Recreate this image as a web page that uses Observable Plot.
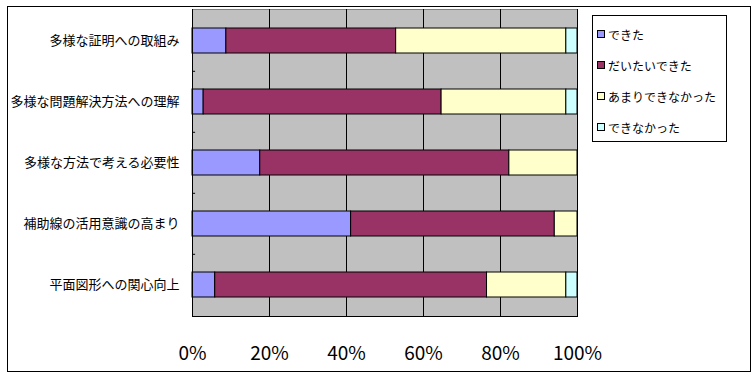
<!DOCTYPE html>
<html><head><meta charset="utf-8">
<script src="https://cdn.jsdelivr.net/npm/d3@7"></script>
<script src="https://cdn.jsdelivr.net/npm/@observablehq/plot@0.6"></script>
<style>
body{margin:0;background:#fff;font-family:"Noto Sans CJK JP",sans-serif;}
#wrap{position:relative;width:756px;height:376px;overflow:hidden;}
#wrap svg{position:absolute;left:0;top:0;}
#border{position:absolute;left:7px;top:6px;width:742px;height:364px;border:1px solid #000;}
#legend{position:absolute;left:592px;top:15px;width:133px;height:125px;border:1px solid #000;background:#fff;font-size:12px;color:#000;}
#legend .item{position:absolute;left:4px;height:16px;display:flex;align-items:center;white-space:nowrap;}
#legend .sw{width:6px;height:6px;border:1px solid #000;margin-right:3px;}
</style></head><body>
<div id="wrap"><div id="border"></div></div>
<script>
const categories = ["多様な証明への取組み","多様な問題解決方法への理解","多様な方法で考える必要性","補助線の活用意識の高まり","平面図形への関心向上"];
const series = ["できた","だいたいできた","あまりできなかった","できなかった"];
const dekita      = [8.8, 2.9, 17.6, 41.2, 5.9];
const daitai      = [44.1, 61.8, 64.7, 52.9, 70.6];
const amari       = [44.2, 32.4, 17.7, 5.9, 20.6];
const dekinakatta = [2.9, 2.9, 0, 0, 2.9];
const colors = ["#9999ff","#993366","#ffffcc","#ccffff"];
const xTicks = [0,20,40,60,80,100];

const seriesValues = [dekita, daitai, amari, dekinakatta];
const rows = categories.flatMap((c,i)=>series.map((s,j)=>({category:c, series:s, order:j, value:seriesValues[j][i]}))).filter(d=>d.value>0);

const W=756, H=376, mT=9, mB=60, mL=192, mR=179;
const step = (H-mT-mB)/categories.length;

const chart = Plot.plot({
  width:W, height:H,
  marginLeft:mL, marginRight:mR, marginTop:mT, marginBottom:mB,
  style:{fontFamily:'"Noto Sans CJK JP", sans-serif', background:"transparent", color:"#000"},
  x:{domain:[0,100]},
  y:{domain:categories, paddingInner:0.59, paddingOuter:0.295},
  color:{domain:series, range:colors},
  marks:[
    Plot.frame({fill:"#c0c0c0", stroke:"#808080"}),
    Plot.gridX(xTicks, {stroke:"#000", strokeOpacity:1}),
    Plot.barX(rows, Plot.stackX({x:"value", y:"category", fill:"series", stroke:"#000", strokeWidth:1, order:series})),
    Plot.ruleX([0], {stroke:"#000"}),
    Plot.frame({anchor:"bottom", stroke:"#000"}),
    Plot.ruleY(categories.slice(1), {y:d=>d, x1:0, x2:0.8, dy:-step/2, stroke:"#000"}),
    Plot.axisY({tickSize:0, tickPadding:13, fontSize:13, label:null}),
    Plot.axisX(xTicks, {tickFormat:d=>d+"%", tickSize:0, tickPadding:30, fontSize:19, label:null})
  ]
});
document.getElementById("wrap").appendChild(chart);

const legend = document.createElement("div");
legend.id = "legend";
series.forEach((s,i)=>{
  const it = document.createElement("div");
  it.className = "item";
  it.style.top = (10 + i*31) + "px";
  const sw = document.createElement("span");
  sw.className = "sw";
  sw.style.background = colors[i];
  it.appendChild(sw);
  it.appendChild(document.createTextNode(s));
  legend.appendChild(it);
});
document.getElementById("wrap").appendChild(legend);
</script>
</body></html>
